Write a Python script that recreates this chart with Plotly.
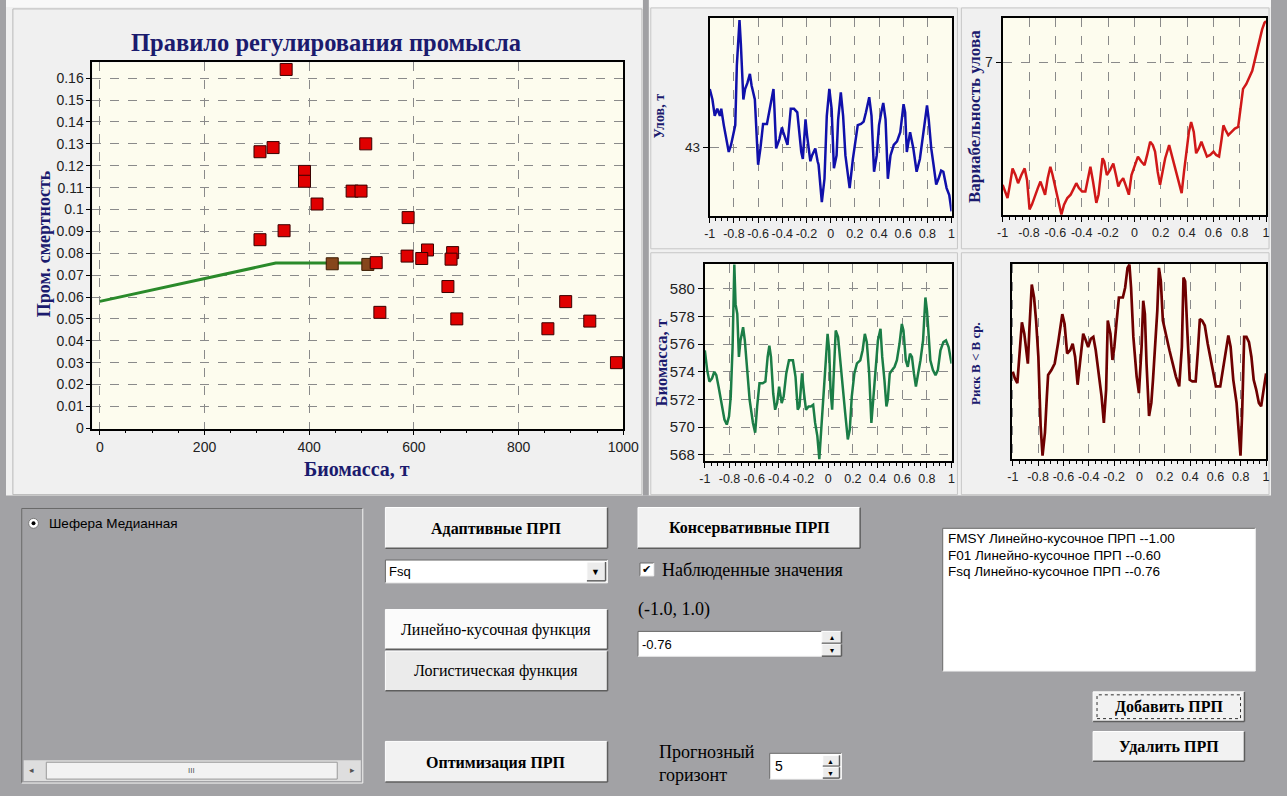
import plotly.graph_objects as go

W, H = 1287, 796
SERIF = "Liberation Serif, Times New Roman, serif"
SANS = "Liberation Sans, Arial, sans-serif"
NAVY = "#1b1b6e"

# ---------------- main chart data ----------------
biomass_obs = [356, 306, 331, 508, 391, 391, 482, 499, 415, 589, 352, 306, 626,
               674, 671, 587, 615, 528, 665, 535, 682, 856, 890, 936, 987]
f_obs = [0.164, 0.1264, 0.1283, 0.130, 0.1174, 0.1129, 0.1084, 0.1084, 0.1025,
         0.0963, 0.0903, 0.0862, 0.0815, 0.0803, 0.0773, 0.0787, 0.0776, 0.0757,
         0.0648, 0.0530, 0.0500, 0.0455, 0.0579, 0.0490, 0.0300]
biomass_on_rule = [444, 512]
f_on_rule = [0.0752, 0.0749]
rule_biomass = [0, 336, 510]
rule_f = [0.058, 0.0755, 0.0755]
main_x_ticks = [0, 200, 400, 600, 800, 1000]
main_y_ticks = [0, 0.01, 0.02, 0.03, 0.04, 0.05, 0.06, 0.07, 0.08, 0.09, 0.1,
                0.11, 0.12, 0.13, 0.14, 0.15, 0.16]
main_y_labels = ["0", "0.01", "0.02", "0.03", "0.04", "0.05", "0.06", "0.07", "0.08",
                 "0.09", "0.1", "0.11", "0.12", "0.13", "0.14", "0.15", "0.16"]

# ---------------- sensitivity charts ----------------
small_x_ticks = [-1, -0.8, -0.6, -0.4, -0.2, 0, 0.2, 0.4, 0.6, 0.8, 1]
small_x_labels = ["-1", "-0.8", "-0.6", "-0.4", "-0.2", "0", "0.2", "0.4", "0.6", "0.8", "1"]

catch_x = [-1.0, -0.978, -0.959, -0.938, -0.916, -0.905, -0.884, -0.843, -0.824, -0.789,
           -0.776, -0.754, -0.743, -0.722, -0.708, -0.689, -0.668, -0.654, -0.627, -0.6,
           -0.581, -0.559, -0.527, -0.492, -0.473, -0.465, -0.451, -0.424, -0.403, -0.392,
           -0.376, -0.357, -0.33, -0.303, -0.276, -0.262, -0.243, -0.23, -0.208, -0.195,
           -0.168, -0.154, -0.127, -0.108, -0.1, -0.073, -0.051, -0.032, -0.011, 0.008,
           0.027, 0.049, 0.062, 0.084, 0.103, 0.122, 0.143, 0.157, 0.184, 0.205,
           0.224, 0.251, 0.273, 0.292, 0.319, 0.338, 0.359, 0.381, 0.4, 0.419,
           0.435, 0.454, 0.473, 0.495, 0.522, 0.549, 0.576, 0.603, 0.616, 0.63,
           0.657, 0.684, 0.711, 0.738, 0.778, 0.797, 0.811, 0.832, 0.851, 0.873,
           0.892, 0.914, 0.932, 0.959, 0.981, 1.0]
catch_y = [43.50, 43.41, 43.27, 43.33, 43.27, 43.33, 43.19, 42.96, 43.02, 43.19,
           43.70, 44.09, 43.89, 43.41, 43.50, 43.55, 43.63, 43.53, 43.41, 42.85,
           42.99, 43.20, 43.20, 43.41, 43.50, 43.33, 42.99, 43.07, 43.17, 43.13,
           43.07, 43.02, 43.33, 43.33, 43.30, 43.16, 42.96, 42.90, 43.24, 43.10,
           42.88, 42.93, 42.99, 42.88, 42.85, 42.53, 42.73, 43.27, 43.50, 43.33,
           42.82, 42.93, 43.24, 43.47, 43.27, 42.93, 42.73, 42.65, 42.90, 43.07,
           43.19, 43.20, 43.22, 43.30, 43.43, 43.27, 42.79, 42.93, 43.19, 43.30,
           43.38, 43.24, 42.73, 42.93, 43.02, 43.05, 43.13, 43.37, 43.30, 42.96,
           43.13, 42.99, 42.79, 42.90, 43.19, 43.36, 43.24, 42.99, 42.85, 42.68,
           42.73, 42.80, 42.79, 42.65, 42.59, 42.45]
catch_ticks = [43]

var_x = [-1.0, -0.983, -0.963, -0.945, -0.925, -0.903, -0.883, -0.858, -0.833, -0.815,
         -0.796, -0.778, -0.753, -0.733, -0.713, -0.696, -0.678, -0.658, -0.638, -0.621,
         -0.596, -0.571, -0.554, -0.534, -0.509, -0.484, -0.459, -0.441, -0.421, -0.397,
         -0.372, -0.352, -0.334, -0.314, -0.289, -0.272, -0.254, -0.242, -0.229, -0.209,
         -0.185, -0.16, -0.14, -0.122, -0.105, -0.085, -0.067, -0.042, -0.022, 0.002,
         0.027, 0.052, 0.077, 0.097, 0.12, 0.14, 0.157, 0.177, 0.195, 0.214,
         0.234, 0.264, 0.284, 0.309, 0.334, 0.359, 0.377, 0.397, 0.414, 0.431,
         0.451, 0.469, 0.489, 0.509, 0.534, 0.551, 0.576, 0.601, 0.621, 0.643,
         0.663, 0.676, 0.693, 0.713, 0.738, 0.763, 0.788, 0.808, 0.825, 0.85,
         0.87, 0.895, 0.913, 0.933, 0.95, 0.97, 0.988, 1.0]
var_y = [3.28, 3.08, 2.88, 3.28, 3.78, 3.58, 3.33, 3.58, 3.78, 3.43,
         2.53, 2.68, 2.98, 3.18, 3.38, 3.18, 2.98, 3.48, 3.83, 3.58,
         3.08, 2.68, 2.38, 2.68, 2.88, 2.98, 3.18, 3.33, 3.18, 3.08,
         3.08, 3.43, 3.83, 3.38, 2.73, 2.98, 3.68, 4.09, 3.99, 3.58,
         3.73, 3.93, 3.58, 3.23, 3.38, 3.48, 3.28, 2.98, 3.58, 3.88,
         4.14, 3.99, 3.88, 4.19, 4.59, 4.49, 4.29, 3.68, 3.28, 3.68,
         4.09, 4.49, 4.19, 3.78, 3.38, 3.03, 3.68, 4.39, 4.89, 5.19,
         4.89, 4.24, 4.39, 4.59, 4.34, 4.14, 4.19, 4.29, 4.19, 4.14,
         4.69, 5.09, 4.94, 4.79, 4.89, 4.99, 5.04, 5.59, 6.20, 6.35,
         6.55, 6.75, 7.05, 7.40, 7.75, 8.01, 8.21, 8.26]
var_ticks = [7]

bio_x = [-1.0, -0.981, -0.963, -0.942, -0.923, -0.907, -0.889, -0.862, -0.841, -0.822,
         -0.804, -0.79, -0.775, -0.761, -0.751, -0.737, -0.724, -0.711, -0.69, -0.676,
         -0.658, -0.637, -0.61, -0.592, -0.576, -0.557, -0.531, -0.509, -0.491, -0.477,
         -0.464, -0.446, -0.43, -0.414, -0.398, -0.377, -0.361, -0.34, -0.318, -0.286,
         -0.265, -0.247, -0.233, -0.212, -0.196, -0.18, -0.159, -0.141, -0.122, -0.106,
         -0.088, -0.072, -0.053, -0.034, -0.019, -0.005, 0.008, 0.019, 0.032, 0.048,
         0.061, 0.08, 0.098, 0.119, 0.138, 0.159, 0.175, 0.191, 0.212, 0.233,
         0.26, 0.279, 0.297, 0.313, 0.332, 0.35, 0.366, 0.385, 0.403, 0.424,
         0.438, 0.456, 0.472, 0.483, 0.499, 0.517, 0.538, 0.557, 0.578, 0.597,
         0.61, 0.629, 0.645, 0.663, 0.679, 0.695, 0.711, 0.729, 0.748, 0.769,
         0.788, 0.801, 0.814, 0.828, 0.849, 0.87, 0.889, 0.91, 0.934, 0.955,
         0.976, 1.0]
bio_y = [575.55, 574.12, 573.29, 573.52, 574.00, 573.76, 572.93, 571.74, 570.55, 570.19,
         570.79, 572.21, 575.79, 581.74, 578.88, 578.17, 575.07, 576.26, 577.21, 576.26,
         574.12, 571.98, 570.31, 569.60, 571.50, 573.17, 573.17, 573.29, 575.07, 575.88,
         575.07, 572.45, 571.26, 571.74, 572.93, 571.74, 572.21, 573.88, 574.83, 574.83,
         573.64, 571.26, 571.50, 573.88, 572.45, 571.26, 571.50, 571.50, 571.62, 570.31,
         569.36, 567.69, 570.31, 572.93, 575.07, 576.74, 575.55, 572.69, 571.26, 574.12,
         576.98, 576.50, 574.60, 572.69, 571.00, 569.12, 569.83, 572.21, 573.88, 574.60,
         574.83, 575.55, 576.74, 576.14, 573.88, 570.31, 572.21, 574.83, 576.26, 577.10,
         575.07, 573.40, 571.50, 571.98, 573.88, 574.12, 574.36, 574.83, 576.02, 577.45,
         576.98, 574.83, 574.36, 575.31, 575.07, 573.88, 572.93, 573.88, 574.83, 576.26,
         579.36, 578.40, 576.74, 574.83, 574.12, 573.76, 574.12, 575.55, 576.14, 576.26,
         575.79, 574.60]
bio_ticks = [568, 570, 572, 574, 576, 578, 580]

risk_x = [-1.0, -0.984, -0.964, -0.946, -0.928, -0.909, -0.894, -0.881, -0.868, -0.85,
          -0.832, -0.816, -0.798, -0.78, -0.765, -0.746, -0.731, -0.721, -0.695, -0.669,
          -0.643, -0.609, -0.591, -0.571, -0.547, -0.527, -0.508, -0.488, -0.467, -0.444,
          -0.423, -0.405, -0.384, -0.364, -0.345, -0.32, -0.299, -0.281, -0.263, -0.25,
          -0.229, -0.213, -0.198, -0.182, -0.162, -0.131, -0.113, -0.094, -0.079, -0.066,
          -0.048, -0.022, -0.004, 0.017, 0.03, 0.043, 0.056, 0.076, 0.094, 0.107,
          0.125, 0.141, 0.154, 0.169, 0.185, 0.211, 0.237, 0.263, 0.288, 0.314,
          0.335, 0.348, 0.361, 0.379, 0.397, 0.418, 0.444, 0.462, 0.477, 0.495,
          0.516, 0.539, 0.56, 0.586, 0.604, 0.638, 0.658, 0.682, 0.702, 0.72,
          0.741, 0.767, 0.785, 0.798, 0.811, 0.827, 0.845, 0.865, 0.884, 0.902,
          0.922, 0.943, 0.961, 0.979, 1.0]
risk_y = [0.268, 0.248, 0.233, 0.314, 0.420, 0.385, 0.344, 0.293, 0.405, 0.536,
          0.496, 0.425, 0.314, 0.101, 0.010, 0.081, 0.192, 0.258, 0.273, 0.293,
          0.354, 0.445, 0.415, 0.324, 0.334, 0.354, 0.314, 0.228, 0.304, 0.385,
          0.364, 0.344, 0.369, 0.375, 0.334, 0.253, 0.192, 0.111, 0.213, 0.425,
          0.385, 0.304, 0.344, 0.415, 0.496, 0.496, 0.526, 0.587, 0.597, 0.526,
          0.375, 0.253, 0.202, 0.344, 0.486, 0.445, 0.293, 0.132, 0.172, 0.243,
          0.344, 0.455, 0.587, 0.546, 0.425, 0.375, 0.334, 0.293, 0.253, 0.223,
          0.344, 0.557, 0.546, 0.385, 0.243, 0.238, 0.238, 0.334, 0.430, 0.425,
          0.410, 0.354, 0.314, 0.253, 0.223, 0.223, 0.273, 0.344, 0.379, 0.344,
          0.243, 0.172, 0.081, 0.010, 0.142, 0.375, 0.375, 0.359, 0.314, 0.243,
          0.213, 0.172, 0.162, 0.213, 0.263]

# ---------------- UI texts ----------------
title_main = "Правило регулирования промысла"
ytitle_main = "Пром. смертность"
xtitle_main = "Биомасса, т"
rule_list = ["FMSY Линейно-кусочное ПРП --1.00",
             "F01 Линейно-кусочное ПРП --0.60",
             "Fsq Линейно-кусочное ПРП --0.76"]


def X(px):
    return px / W


def Y(py):
    return 1 - py / H


def dom_x(a, b):
    return [X(a), X(b)]


def dom_y(top, bottom):
    return [Y(bottom), Y(top)]


# plot area geometry (pixels)
MAIN = (88, 63, 628, 433)
CATCH = (716, 18, 962, 218)
VAR = (1014, 18, 1282, 217)
BIO = (711, 266, 962, 465)
RISK = (1023, 266, 1282, 463)

fig = go.Figure()

fig.add_trace(go.Scatter(x=rule_biomass, y=rule_f, mode="lines",
                         line=dict(color="#2a8a2a", width=3), xaxis="x", yaxis="y"))
fig.add_trace(go.Scatter(x=biomass_on_rule, y=f_on_rule, mode="markers",
                         marker=dict(symbol="square", size=12, color="#86461c",
                                     line=dict(color="#3a1a00", width=1)), xaxis="x", yaxis="y"))
fig.add_trace(go.Scatter(x=biomass_obs, y=f_obs, mode="markers",
                         marker=dict(symbol="square", size=12, color="#e00000",
                                     line=dict(color="#3a0000", width=1)), xaxis="x", yaxis="y"))
fig.add_trace(go.Scatter(x=catch_x, y=catch_y, mode="lines",
                         line=dict(color="#1010aa", width=2.5), xaxis="x2", yaxis="y2"))
fig.add_trace(go.Scatter(x=var_x, y=var_y, mode="lines",
                         line=dict(color="#d01818", width=2.5), xaxis="x3", yaxis="y3"))
fig.add_trace(go.Scatter(x=bio_x, y=bio_y, mode="lines",
                         line=dict(color="#1b7d46", width=2.5), xaxis="x4", yaxis="y4"))
fig.add_trace(go.Scatter(x=risk_x, y=risk_y, mode="lines",
                         line=dict(color="#6e0000", width=2.7), xaxis="x5", yaxis="y5"))

GRID = dict(showgrid=True, gridcolor="#8a8a8a", griddash="dash", gridwidth=1,
            zeroline=False, showline=True, linecolor="black", linewidth=2,
            mirror=True, tickcolor="black")


def small_x(anchor, box, rng=(-1, 1)):
    return dict(GRID, domain=dom_x(box[0], box[2]), anchor=anchor, range=list(rng),
                tickmode="array", tickvals=small_x_ticks, ticktext=small_x_labels,
                ticks="outside", ticklen=5,
                tickfont=dict(family=SANS, size=12.5, color="#222222"),
                minor=dict(ticks="outside", ticklen=3, dtick=0.05, tick0=-1,
                           tickcolor="black", showgrid=False))


def small_y(anchor, box, rng, tickvals, size=14, showlabels=True):
    return dict(GRID, domain=dom_y(box[1], box[3]), anchor=anchor, range=list(rng),
                tickmode="array", tickvals=tickvals,
                ticks="outside" if showlabels else "", ticklen=5,
                showticklabels=showlabels,
                tickfont=dict(family=SANS, size=size, color="#222222"))


fig.update_layout(
    width=W, height=H, margin=dict(l=0, r=0, t=0, b=0),
    paper_bgcolor="#a2a2a5", plot_bgcolor="#fdfcee", showlegend=False,
    xaxis=dict(GRID, domain=dom_x(MAIN[0], MAIN[2]), anchor="y", range=[-14, 1000],
               tickmode="array", tickvals=main_x_ticks, ticks="outside", ticklen=4,
               tickfont=dict(family=SANS, size=14, color="#222222"),
               minor=dict(ticks="outside", ticklen=2, dtick=50, tick0=0,
                          tickcolor="black", showgrid=False)),
    yaxis=dict(GRID, domain=dom_y(MAIN[1], MAIN[3]), anchor="x", range=[-0.0004, 0.1672],
               tickmode="array", tickvals=main_y_ticks, ticktext=main_y_labels,
               ticks="outside", ticklen=4,
               tickfont=dict(family=SANS, size=14, color="#222222")),
    xaxis2=small_x("y2", CATCH),
    yaxis2=small_y("x2", CATCH, (42.41, 44.11), catch_ticks, 13.5),
    xaxis3=small_x("y3", VAR),
    yaxis3=small_y("x3", VAR, (2.36, 8.36), var_ticks, 14),
    xaxis4=small_x("y4", BIO),
    yaxis4=small_y("x4", BIO, (567.57, 581.8), bio_ticks, 15),
    xaxis5=small_x("y5", RISK, (-1.01, 1.0)),
    yaxis5=dict(small_y("x5", RISK, (0, 0.6), [], showlabels=False), showgrid=False),
)

shapes = []


def rect(x0, y0, x1, y1, fill=None, line=None, lw=1, dash=None):
    d = dict(type="rect", xref="paper", yref="paper", x0=X(x0), x1=X(x1), y0=Y(y1), y1=Y(y0),
             layer="below", fillcolor=fill if fill else "rgba(0,0,0,0)",
             line=dict(color=line if line else "rgba(0,0,0,0)", width=lw if line else 0))
    if dash:
        d["line"]["dash"] = dash
    shapes.append(d)


def hline(x0, x1, y, color, lw=1):
    shapes.append(dict(type="line", xref="paper", yref="paper", x0=X(x0), x1=X(x1),
                       y0=Y(y), y1=Y(y), layer="below", line=dict(color=color, width=lw)))


def vline(x, y0, y1, color, lw=1):
    shapes.append(dict(type="line", xref="paper", yref="paper", x0=X(x), x1=X(x),
                       y0=Y(y0), y1=Y(y1), layer="below", line=dict(color=color, width=lw)))


def sunken(x0, y0, x1, y1, fill):
    rect(x0, y0, x1, y1, fill=fill)
    hline(x0, x1, y0, "#6a6a6a")
    vline(x0, y0, y1, "#6a6a6a")
    hline(x0, x1, y1, "#f4f4f4")
    vline(x1, y0, y1, "#f4f4f4")


def button(x0, y0, x1, y1, fill="#f2f2f2"):
    rect(x0, y0, x1, y1, fill=fill)
    hline(x0, x1, y0, "#ffffff")
    vline(x0, y0, y1, "#ffffff")
    hline(x0, x1, y1, "#5e5e5e", 1.5)
    vline(x1, y0, y1, "#5e5e5e", 1.5)


# top panels
rect(0, 0, W, 500, fill="#f0f0f0")
rect(0, 0, W, 7, fill="#f8f8f8")
rect(7, 9, 647, 499, line="#b8b8b8")
rect(648, 0, 654, 500, fill="#a0a0a3")
for (a, b, c, d) in [(656, 8, 968, 251), (972, 8, 1285, 251),
                     (656, 255, 968, 499), (972, 255, 1285, 499)]:
    rect(a, b, c, d, line="#c6c6c6")
# plot area backgrounds
for (a, b, c, d) in [MAIN, CATCH, VAR, BIO, RISK]:
    rect(a, b, c, d, fill="#fdfcee")

# bottom controls
sunken(16, 513, 363, 790, "#a2a2a5")
rect(18, 767, 361, 788, fill="#dedede")
rect(41, 769, 337, 786, fill="#f2f2f2", line="#9a9a9a")
shapes.append(dict(type="circle", xref="paper", yref="paper", x0=X(23), x1=X(33),
                   y0=Y(533), y1=Y(523), layer="below",
                   fillcolor="white", line=dict(color="#7a7a7a", width=1)))
shapes.append(dict(type="circle", xref="paper", yref="paper", x0=X(26), x1=X(30),
                   y0=Y(530), y1=Y(526), layer="below",
                   fillcolor="black", line=dict(color="black", width=0)))

button(386, 512, 612, 553)
sunken(386, 565, 612, 588, "white")
button(591, 567, 610, 586, "#ececec")
button(386, 615, 612, 655, "#fbfbfb")
button(386, 657, 612, 697, "#ebebeb")
button(386, 748, 612, 789)
button(643, 512, 869, 553)
sunken(645, 568, 659, 581, "white")
sunken(643, 637, 830, 662, "white")
button(830, 637, 850, 649, "#ececec")
button(830, 650, 850, 662, "#ececec")
sunken(777, 760, 850, 786, "white")
button(831, 762, 848, 773, "#ececec")
button(831, 774, 848, 785, "#ececec")
sunken(953, 533, 1271, 677, "white")
button(1106, 698, 1260, 728)
rect(1110, 701, 1256, 725, line="#303030", dash="dot")
button(1106, 738, 1260, 768)

fig.update_layout(shapes=shapes)

anns = []


def txt(s, x, y, size, family=SERIF, color="black", bold=False, xanchor="center", angle=0):
    anns.append(dict(text=f"<b>{s}</b>" if bold else s, x=X(x), y=Y(y), xref="paper",
                     yref="paper", showarrow=False, xanchor=xanchor, yanchor="middle",
                     textangle=angle, font=dict(size=size, family=family, color=color)))


txt(title_main, 326, 43, 24.5, color=NAVY, bold=True)
txt(ytitle_main, 39, 246, 18, color=NAVY, bold=True, angle=-90)
txt(xtitle_main, 357, 473, 20, color=NAVY, bold=True)
txt("Улов, т", 665, 117, 14, color=NAVY, bold=True, angle=-90)
txt("Вариабельность улова", 986, 118, 17, color=NAVY, bold=True, angle=-90)
txt("Биомасса, т", 667, 366, 16.5, color=NAVY, bold=True, angle=-90)
txt("Риск B < B ср.", 987, 367, 13, color=NAVY, bold=True, angle=-90)

txt("Шефера Медианная", 42, 528, 13.5, family=SANS, xanchor="left")
txt("◂", 26, 777, 9, family=SANS, color="#555555")
txt("▸", 353, 777, 9, family=SANS, color="#555555")
txt("III", 189, 777, 8, family=SANS, color="#555555")
txt("Адаптивные ПРП", 499, 533, 16, bold=True)
txt("Fsq", 388, 577, 13, family=SANS, xanchor="left")
txt("▼", 600, 577, 9, family=SANS)
txt("Линейно-кусочная функция", 499, 636, 16)
txt("Логистическая функция", 499, 677, 16)
txt("Оптимизация ПРП", 499, 769, 16, bold=True)
txt("Консервативные ПРП", 756, 533, 16, bold=True)
txt("✔", 652, 575, 11, family="DejaVu Sans")
txt("Наблюденные значения", 665, 575, 18, xanchor="left")
txt("(-1.0, 1.0)", 641, 615, 18, xanchor="left")
txt("-0.76", 645, 650, 13, family=SANS, xanchor="left")
txt("▴", 840, 643, 8, family=SANS)
txt("▾", 840, 656, 8, family=SANS)
txt("Прогнозный", 662, 759, 18, xanchor="left")
txt("горизонт", 662, 782, 18, xanchor="left")
txt("5", 780, 773, 14, family=SANS, xanchor="left")
txt("▲", 839, 768, 7, family=SANS)
txt("▼", 839, 780, 7, family=SANS)
for i, line in enumerate(rule_list):
    txt(line, 956, 543 + 17 * i, 13.5, family=SANS, xanchor="left")
txt("Добавить ПРП", 1183, 713, 16, bold=True)
txt("Удалить ПРП", 1183, 753, 16, bold=True)

fig.update_layout(annotations=anns)

fig.write_html("out.html")
